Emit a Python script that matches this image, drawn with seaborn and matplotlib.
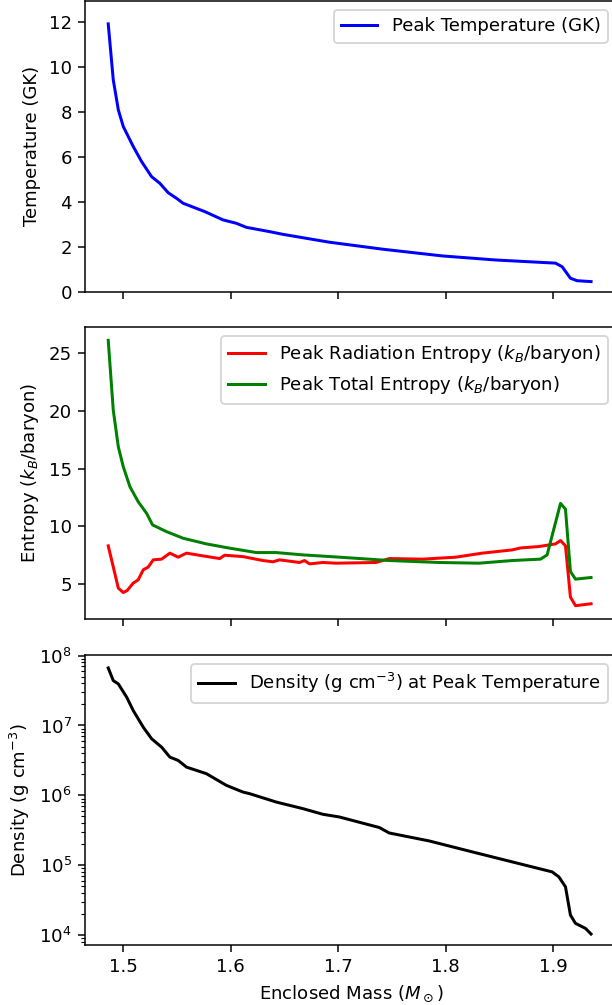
import numpy as np
import matplotlib
matplotlib.use("Agg")
import matplotlib.pyplot as plt
import seaborn as sns

# ---- data ----
temp_mass = [1.486, 1.4907, 1.4954, 1.5, 1.5093, 1.5171, 1.5264, 1.534, 1.5418, 1.5496,
             1.5557, 1.5759, 1.5929, 1.6053, 1.6146, 1.6362, 1.6486, 1.6671, 1.6919,
             1.7414, 1.7971, 1.8467, 1.9024, 1.9086, 1.9163, 1.9225, 1.9355]
temp_gk = [11.91, 9.42, 8.09, 7.35, 6.46, 5.79, 5.12, 4.83, 4.41, 4.16,
           3.94, 3.57, 3.20, 3.05, 2.87, 2.68, 2.56, 2.41, 2.21,
           1.90, 1.60, 1.42, 1.28, 1.12, 0.61, 0.50, 0.46]

tot_mass = [1.486, 1.4907, 1.4954, 1.5, 1.5062, 1.5139, 1.5217, 1.5273, 1.5403, 1.5557,
            1.5774, 1.5991, 1.6239, 1.6424, 1.6671, 1.7012, 1.7476, 1.794, 1.8312,
            1.8621, 1.8885, 1.8946, 1.9071, 1.9117, 1.9163, 1.921, 1.9355]
tot_entropy = [26.1, 20.05, 16.88, 15.16, 13.43, 12.13, 11.13, 10.12, 9.54, 8.97,
               8.48, 8.11, 7.73, 7.73, 7.53, 7.33, 7.04, 6.87, 6.81,
               7.04, 7.16, 7.53, 11.99, 11.48, 6.09, 5.43, 5.57]

rad_mass = [1.486, 1.4954, 1.5, 1.5037, 1.5093, 1.5139, 1.5186, 1.5232, 1.5279, 1.5357,
            1.5434, 1.5511, 1.5589, 1.5743, 1.5898, 1.5944, 1.6114, 1.63, 1.6393,
            1.6455, 1.6641, 1.6687, 1.6734, 1.6857, 1.6981, 1.7353, 1.7476, 1.7786,
            1.8096, 1.8343, 1.8621, 1.8699, 1.8869, 1.9024, 1.9071, 1.9117, 1.9163,
            1.921, 1.9355]
rad_entropy = [8.31, 4.65, 4.27, 4.45, 5.09, 5.37, 6.24, 6.47, 7.10, 7.16,
               7.68, 7.33, 7.68, 7.44, 7.21, 7.50, 7.38, 7.04, 6.93,
               7.10, 6.87, 7.04, 6.75, 6.87, 6.81, 6.87, 7.21, 7.16,
               7.33, 7.68, 7.96, 8.13, 8.25, 8.48, 8.77, 8.31, 3.88,
               3.13, 3.30]

dens_mass = [1.486, 1.4907, 1.4954, 1.5032, 1.5093, 1.5186, 1.5264, 1.5357, 1.5434, 1.5511,
             1.5589, 1.5774, 1.596, 1.6114, 1.6176, 1.6424, 1.6671, 1.6857, 1.7012,
             1.7384, 1.7476, 1.7848, 1.825, 1.8621, 1.8993, 1.9055, 1.9117, 1.9163,
             1.921, 1.9303, 1.9355]
dens_log10 = [7.824, 7.643, 7.595, 7.405, 7.214, 6.976, 6.81, 6.69, 6.547, 6.50,
              6.404, 6.31, 6.143, 6.047, 6.024, 5.904, 5.81, 5.729, 5.69,
              5.539, 5.461, 5.347, 5.19, 5.047, 4.904, 4.833, 4.69, 4.286,
              4.167, 4.095, 4.014]

xticks = [1.5, 1.6, 1.7, 1.8, 1.9]

# ---- figure ----
plt.rcParams["font.size"] = 9.7
dpi = 135
fig = plt.figure(figsize=(613 / dpi, 1005 / dpi), dpi=dpi)
left, width = 0.1387, 0.8679
ax1 = fig.add_axes([left, 0.7095, width, 0.2896])
ax2 = fig.add_axes([left, 0.3841, width, 0.2905], sharex=ax1)
ax3 = fig.add_axes([left, 0.0597, width, 0.2886], sharex=ax1)

sns.lineplot(x=temp_mass, y=temp_gk, color="blue", label="Peak Temperature (GK)",
             linewidth=1.6, ax=ax1)
ax1.set_ylim(0, 12.93)
ax1.set_ylabel("Temperature (GK)")
ax1.legend(loc="upper right")

sns.lineplot(x=rad_mass, y=rad_entropy, color="red",
             label="Peak Radiation Entropy ($k_B$/baryon)", linewidth=1.6, ax=ax2)
sns.lineplot(x=tot_mass, y=tot_entropy, color="green",
             label="Peak Total Entropy ($k_B$/baryon)", linewidth=1.6, ax=ax2)
ax2.set_ylabel("Entropy ($k_B$/baryon)")
ax2.legend(loc="upper right")

sns.lineplot(x=dens_mass, y=10 ** np.array(dens_log10), color="black",
             label="Density (g cm$^{-3}$) at Peak Temperature", linewidth=1.6, ax=ax3)
ax3.set_yscale("log")
ax3.set_ylim(10 ** 3.857, 10 ** 8.01)
ax3.set_ylabel("Density (g cm$^{-3}$)")
ax3.set_xlabel("Enclosed Mass ($M_\\odot$)")
ax3.legend(loc="upper right")

ax1.set_xlim(1.4644, 1.9597)
ax3.set_xticks(xticks)
for ax in (ax1, ax2):
    ax.tick_params(labelbottom=False)
    ax.set_xlabel("")

fig.savefig("out.png", dpi=dpi)
